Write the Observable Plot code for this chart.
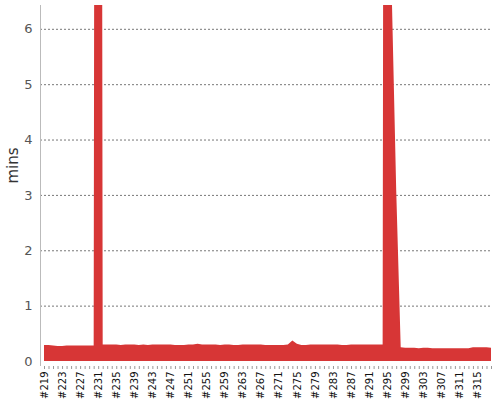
<!DOCTYPE html>
<html>
<head>
<meta charset="utf-8">
<script src="https://cdn.jsdelivr.net/npm/d3@7"></script>
<script src="https://cdn.jsdelivr.net/npm/@observablehq/plot@0.6"></script>
<style>
  html, body { margin: 0; padding: 0; background: #fff; }
  #chart svg { display: block; }
</style>
</head>
<body>
<div id="chart"></div>
<script>
const builds = d3.range(219, 319);
const minutes = [
  0.29, 0.29, 0.28, 0.27, 0.27, 0.28, 0.28, 0.28, 0.28, 0.28,
  0.28, 0.28, 60,   0.30, 0.30, 0.30, 0.30, 0.29, 0.30, 0.30,
  0.30, 0.29, 0.30, 0.29, 0.30, 0.30, 0.30, 0.30, 0.30, 0.29,
  0.29, 0.29, 0.30, 0.30, 0.31, 0.30, 0.30, 0.30, 0.30, 0.29,
  0.30, 0.30, 0.29, 0.29, 0.30, 0.30, 0.30, 0.30, 0.30, 0.29,
  0.29, 0.29, 0.29, 0.29, 0.30, 0.37, 0.31, 0.29, 0.29, 0.30,
  0.30, 0.30, 0.30, 0.30, 0.30, 0.30, 0.29, 0.29, 0.30, 0.30,
  0.30, 0.30, 0.30, 0.30, 0.30, 0.30, 60,   6.7,  3.1,  0.25,
  0.24, 0.24, 0.24, 0.23, 0.24, 0.24, 0.23, 0.23, 0.23, 0.23,
  0.23, 0.23, 0.23, 0.23, 0.23, 0.25, 0.25, 0.25, 0.25, 0.24
];
const labelBuilds = d3.range(219, 319, 4);
const yTicks = [0, 1, 2, 3, 4, 5, 6];
const yMax = 6.43;

const data = builds.map((b, i) => ({build: b, mins: minutes[i]}));

const chart = Plot.plot({
  width: 500,
  height: 400,
  marginLeft: 40,
  marginRight: 9,
  marginTop: 5,
  marginBottom: 39,
  style: {fontFamily: "DejaVu Sans", background: "#fff"},
  x: {domain: [219, 318], insetLeft: 4, insetRight: 0},
  y: {domain: [0, yMax]},
  marks: [
    Plot.gridY(yTicks.filter(d => d > 0), {stroke: "#777", strokeOpacity: 1, strokeDasharray: "2,2"}),
    Plot.areaY(data, {x: "build", y: "mins", fill: "#d73636", clip: true}),
    Plot.ruleX([219], {dx: -4, stroke: "#bbb", insetBottom: -5}),
    Plot.axisY(yTicks, {tickSize: 0, tickPadding: 8, fontSize: 13, fill: "#555", label: null,
      tickFormat: d => String(d)}),
    Plot.axisX(builds, {tickSize: 3, tickFormat: () => "", stroke: "#999", dy: 5, label: null}),
    Plot.axisX(labelBuilds, {tickSize: 0, tickRotate: -90, tickPadding: 5, dy: 5,
      tickFormat: d => "#" + d, fontSize: 10, fill: "#111", label: null}),
    Plot.text(["mins"], {frameAnchor: "left", dx: -27, rotate: -90, text: d => d,
      fontSize: 15, fill: "#333"})
  ]
});
document.getElementById("chart").appendChild(chart);
</script>
</body>
</html>
